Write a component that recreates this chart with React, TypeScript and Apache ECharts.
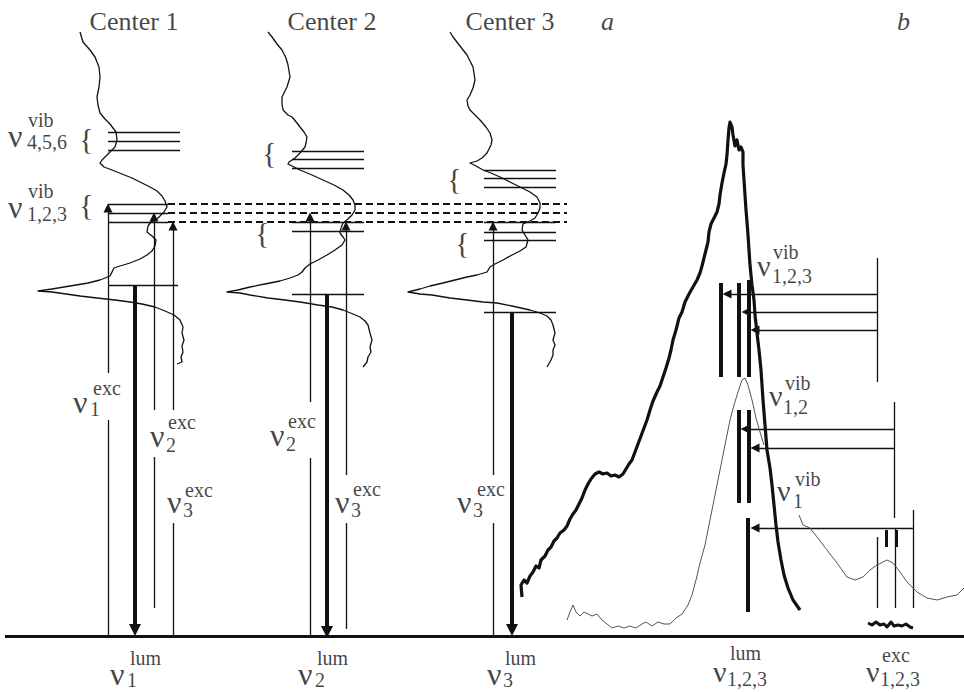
import React, { useEffect, useRef } from "react";
import * as echarts from "echarts";

// ---------------- data (diagram units: x to the right, y downward) ----------------
const centerTitles = ["Center 1", "Center 2", "Center 3"];
const panelLetters = ["a", "b"];

// excitation spectra of the three centres (panel a), traced vertically
const spectrumCenter1 = [
  [80, 32], [83, 42], [90, 50], [95, 57], [99, 67], [100, 77], [99, 87], [97, 97], [98, 105], [100, 113],
  [105, 119], [110, 124], [116, 132], [117, 140], [115, 147], [108, 154], [102, 160], [100, 163], [104, 167],
  [112, 170], [122, 174], [132, 178], [142, 183], [150, 187], [157, 191], [162, 196], [165, 201], [167, 207],
  [164, 212], [158, 218], [151, 222], [148, 226], [147, 232], [152, 236], [156, 240], [155, 246], [152, 251],
  [147, 255], [140, 259], [130, 263], [120, 266], [114, 268], [112, 272], [110, 276], [100, 280], [88, 283],
  [70, 286], [52, 289], [38, 291], [52, 292], [66, 294], [80, 296], [97, 298], [115, 300], [130, 302],
  [142, 304], [155, 307], [165, 311], [174, 315], [180, 320], [183, 327], [182, 333], [184, 340], [182, 346],
  [183, 352], [181, 357], [182, 362], [177, 364],
];
const spectrumCenter2 = [
  [268, 32], [272, 37], [277, 44], [282, 50], [286, 58], [288, 65], [290, 77], [287, 87], [282, 97], [282, 104],
  [283, 110], [288, 115], [292, 117], [297, 123], [300, 127], [304, 132], [307, 137], [306, 143], [305, 147],
  [300, 153], [295, 158], [289, 162], [288, 164], [294, 167], [300, 170], [312, 175], [323, 180], [334, 185],
  [343, 190], [349, 195], [353, 200], [355, 205], [355, 210], [352, 215], [348, 219], [343, 223], [341, 228],
  [340, 233], [343, 237], [345, 240], [342, 245], [335, 250], [327, 255], [318, 260], [310, 264], [305, 268],
  [302, 272], [298, 275], [290, 278], [280, 281], [265, 284], [250, 287], [238, 290], [227, 292], [240, 293],
  [250, 295], [268, 298], [285, 300], [300, 302], [318, 305], [332, 307], [343, 310], [353, 314], [360, 317],
  [365, 321], [368, 325], [370, 333], [372, 340], [370, 347], [371, 352], [368, 357], [367, 362], [363, 367],
];
const spectrumCenter3 = [
  [450, 32], [453, 37], [460, 46], [467, 55], [470, 61], [473, 67], [475, 80], [473, 88], [470, 95], [467, 100],
  [468, 106], [470, 110], [475, 115], [480, 120], [486, 127], [490, 133], [492, 140], [491, 145], [487, 153],
  [482, 158], [477, 161], [470, 163], [476, 166], [483, 170], [491, 173], [500, 177], [510, 182], [520, 187],
  [530, 192], [537, 197], [540, 203], [540, 208], [538, 213], [535, 218], [530, 221], [523, 224], [522, 230],
  [525, 235], [528, 240], [526, 247], [520, 251], [512, 255], [503, 260], [495, 264], [490, 267], [487, 272],
  [477, 275], [467, 277], [455, 280], [443, 283], [430, 286], [420, 289], [408, 292], [420, 294], [432, 295],
  [450, 298], [467, 300], [483, 302], [497, 303], [512, 306], [530, 310], [540, 313], [547, 316], [551, 320],
  [553, 325], [555, 333], [553, 340], [555, 345], [553, 350], [553, 355], [551, 360], [547, 367],
];

// panel b: luminescence band (bold) and excitation spectrum (thin)
const luminescenceB = [
  [522, 597], [521, 585], [524, 580], [527, 583], [530, 576], [533, 572], [536, 566], [539, 568], [541, 560],
  [545, 556], [548, 550], [551, 547], [554, 541], [557, 538], [560, 533], [564, 530], [567, 526], [570, 519],
  [573, 514], [576, 510], [579, 504], [582, 498], [585, 490], [588, 484], [591, 479], [595, 474], [599, 472],
  [603, 474], [607, 473], [611, 476], [615, 475], [619, 477], [623, 474], [626, 469], [629, 464], [632, 460],
  [635, 452], [638, 444], [641, 436], [644, 428], [647, 420], [650, 410], [653, 401], [657, 392], [660, 386],
  [663, 377], [666, 368], [669, 358], [671, 350], [673, 340], [676, 330], [679, 318], [682, 312], [685, 302],
  [689, 294], [693, 287], [697, 280], [700, 273], [702, 266], [704, 258], [706, 250], [708, 242], [709, 232],
  [711, 224], [714, 218], [717, 212], [719, 204], [720, 195], [722, 183], [724, 173], [726, 164], [727, 155],
  [728, 140], [729, 128], [730, 122], [732, 127], [733, 135], [735, 146], [737, 140], [739, 150], [741, 147],
  [743, 152], [743, 165], [744, 180], [745, 195], [746, 210], [747, 222], [748, 235], [749, 250], [750, 265],
  [752, 285], [754, 300], [755, 315], [757, 333], [759, 350], [761, 370], [762, 385], [763, 400], [765, 425],
  [767, 450], [770, 468], [772, 485], [774, 505], [776, 525], [778, 542], [781, 560], [784, 575], [788, 588],
  [793, 600], [800, 610],
];
const excitationBMain = [
  [567, 620], [570, 612], [573, 605], [576, 612], [580, 616], [584, 612], [588, 614], [592, 616], [597, 614],
  [602, 620], [607, 624], [612, 628], [618, 626], [624, 628], [630, 626], [636, 628], [642, 624], [646, 622],
  [652, 626], [658, 622], [664, 624], [670, 624], [676, 618], [682, 614], [688, 605], [692, 595], [696, 580],
  [700, 563], [705, 545], [710, 520], [714, 500], [718, 480], [722, 460], [726, 440], [730, 420], [734, 405],
  [738, 392], [742, 380], [745, 378], [748, 385], [752, 400], [756, 418], [760, 432], [764, 445],
];
const excitationBTail = [
  [799, 515], [803, 525], [810, 528], [817, 537], [827, 550], [837, 563], [847, 577], [855, 580], [863, 577],
  [870, 570], [877, 565], [887, 560], [893, 563], [900, 572], [907, 582], [917, 592], [927, 598], [937, 600],
  [947, 597], [957, 595], [964, 588],
];
const excitationNoise = [
  [868, 623], [872, 625], [876, 622], [880, 625], [884, 624], [887, 627], [891, 622], [894, 626], [898, 625],
  [902, 626], [906, 624], [910, 627], [913, 628],
];

// energy levels [x1, x2, y]
const levelLines = [
  [108, 180, 132], [108, 180, 141], [108, 180, 150], [108, 168, 204], [108, 168, 213], [108, 168, 222], [108, 178, 285],
  [292, 364, 151], [292, 364, 159], [292, 364, 168], [292, 364, 222], [292, 364, 231], [292, 364, 294],
  [484, 556, 170], [484, 556, 178], [484, 556, 187], [484, 556, 222], [484, 556, 232], [484, 556, 240], [484, 556, 312],
];
const sharedVibLevels = [
  [168, 567, 204], [168, 567, 213], [168, 567, 222],
];
// excitation transitions (thin, upward): x, from, to, label gap
const excTransitions = [
  { x: 108, from: 636, to: 204, gap: [373, 420] },
  { x: 154, from: 608, to: 213, gap: [410, 457] },
  { x: 173, from: 636, to: 222, gap: [410, 523] },
  { x: 310, from: 636, to: 213, gap: [402, 458] },
  { x: 346, from: 629, to: 222, gap: [475, 523] },
  { x: 493, from: 636, to: 222, gap: [475, 523] },
];
// luminescence transitions (bold, downward): x, from, to
const lumTransitions = [
  [135, 285, 636], [327, 294, 638], [512, 312, 636],
];
// panel b: luminescence lines [x, y1, y2]
const lumLinesB = [
  [721, 283, 377], [739, 283, 377], [749, 280, 377], [739, 410, 503], [749, 410, 503], [748, 518, 612],
];
// panel b: vibrational transitions (leftward) [xFrom, xTo, y]
const vibArrowsB = [
  [877, 723, 294], [877, 742, 312], [877, 751, 330], [894, 741, 429], [894, 751, 448], [913, 751, 528],
];
// panel b: thin vertical markers [x, y1, y2]
const markersB = [
  [877, 258, 382], [894, 402, 518], [877, 537, 608], [895, 528, 608], [913, 510, 608],
];
const excLinesB = [
  [886, 530, 547], [896, 530, 547],
];
const baseline = [5, 964, 636];

// ---------------- annotation layout ----------------
type NuLabel = { x: number; base: number; sup: string; sub: string; supX: number; supBase: number; subX: number; subBase: number; size: number };
const nuLabels: NuLabel[] = [
  { x: 8, base: 147, sup: "vib", sub: "4,5,6", supX: 28, supBase: 127, subX: 27, subBase: 149, size: 32 },
  { x: 8, base: 218, sup: "vib", sub: "1,2,3", supX: 28, supBase: 198, subX: 27, subBase: 221, size: 32 },
  { x: 73, base: 413, sup: "exc", sub: "1", supX: 93, supBase: 395, subX: 90, subBase: 416, size: 32 },
  { x: 150, base: 447, sup: "exc", sub: "2", supX: 168, supBase: 429, subX: 166, subBase: 452, size: 32 },
  { x: 167, base: 513, sup: "exc", sub: "3", supX: 185, supBase: 497, subX: 183, subBase: 517, size: 32 },
  { x: 270, base: 446, sup: "exc", sub: "2", supX: 288, supBase: 428, subX: 286, subBase: 451, size: 32 },
  { x: 335, base: 513, sup: "exc", sub: "3", supX: 353, supBase: 496, subX: 351, subBase: 517, size: 32 },
  { x: 457, base: 513, sup: "exc", sub: "3", supX: 477, supBase: 496, subX: 473, subBase: 517, size: 32 },
  { x: 110, base: 685, sup: "lum", sub: "1", supX: 130, supBase: 665, subX: 127, subBase: 687, size: 32 },
  { x: 298, base: 685, sup: "lum", sub: "2", supX: 317, supBase: 665, subX: 315, subBase: 687, size: 32 },
  { x: 487, base: 685, sup: "lum", sub: "3", supX: 505, supBase: 665, subX: 503, subBase: 687, size: 32 },
  { x: 713, base: 682, sup: "lum", sub: "1,2,3", supX: 730, supBase: 660, subX: 727, subBase: 686, size: 30 },
  { x: 866, base: 682, sup: "exc", sub: "1,2,3", supX: 882, supBase: 662, subX: 880, subBase: 686, size: 30 },
  { x: 757, base: 275, sup: "vib", sub: "1,2,3", supX: 773, supBase: 259, subX: 772, subBase: 283, size: 28 },
  { x: 769, base: 405, sup: "vib", sub: "1,2", supX: 785, supBase: 390, subX: 783, subBase: 414, size: 28 },
  { x: 777, base: 500, sup: "vib", sub: "1", supX: 795, supBase: 486, subX: 793, subBase: 508, size: 28 },
];
const braces = [[79, 141], [79, 207], [262, 155], [255, 235], [447, 181], [455, 245]];
const titlePos = [[134, 30], [332, 30], [510, 30]];
const letterPos = [[601, 30], [897, 30]];

const INK = "#111111";
const SERIF = '"Liberation Serif", "Times New Roman", "DejaVu Serif", serif';
const SMALL = 20;
const mid = (base: number, size: number) => base - 0.34 * size;

function linesSeries(data: any[], width: number, extra: any = {}) {
  return {
    type: "lines",
    coordinateSystem: "cartesian2d",
    polyline: false,
    silent: true,
    data,
    symbol: "none",
    lineStyle: { color: INK, width, opacity: 1, curveness: 0 },
    ...extra,
  };
}
function curveSeries(data: number[][], width: number, color = INK) {
  return {
    type: "line",
    data,
    symbol: "none",
    silent: true,
    smooth: false,
    lineStyle: { color, width, join: "round" },
  };
}
function textSeries(items: { x: number; y: number; text: string }[], label: any) {
  return {
    type: "scatter",
    symbolSize: 0,
    silent: true,
    data: items.map((t) => ({ value: [t.x, t.y], label: { formatter: t.text } })),
    label: { show: true, position: "inside", color: INK, fontFamily: SERIF, verticalAlign: "middle", ...label },
  };
}

export default function App() {
  const ref = useRef<HTMLDivElement>(null);
  useEffect(() => {
    if (!ref.current) return;
    const chart = echarts.init(ref.current, undefined, { renderer: "svg" });

    const seg = (x1: number, y1: number, x2: number, y2: number) => ({ coords: [[x1, y1], [x2, y2]] });

    const thin: any[] = [];
    levelLines.forEach(([a, b, y]) => thin.push(seg(a, y, b, y)));
    excTransitions.forEach((t) => thin.push(seg(t.x, t.from, t.x, t.gap[1])));
    markersB.forEach(([x, a, b]) => thin.push(seg(x, a, x, b)));

    const upHeads = excTransitions.map((t) => seg(t.x, t.gap[0], t.x, t.to + 4));
    const leftHeads = vibArrowsB.map(([a, b, y]) => seg(a, y, b + 4, y));
    const dashed = sharedVibLevels.map(([a, b, y]) => seg(a, y, b, y));
    const lumDown = lumTransitions.map(([x, a, b]) => seg(x, a, x, b - 6));
    const bars = lumLinesB.map(([x, a, b]) => seg(x, a, x, b));
    const marks = excLinesB.map(([x, a, b]) => seg(x, a, x, b));

    const nuItems: any[] = [];
    const nuItemsB: any[] = [];
    const supItems: any[] = [];
    const subItems: any[] = [];
    nuLabels.forEach((l) => {
      (l.size >= 32 ? nuItems : nuItemsB).push({ x: l.x, y: mid(l.base, l.size), text: "ν" });
      supItems.push({ x: l.supX, y: mid(l.supBase, SMALL), text: l.sup });
      subItems.push({ x: l.subX, y: mid(l.subBase, SMALL), text: l.sub });
    });

    chart.setOption({
      animation: false,
      backgroundColor: "#ffffff",
      grid: { left: 0, right: 0, top: 0, bottom: 0 },
      xAxis: { type: "value", min: 0, max: 964, show: false },
      yAxis: { type: "value", min: 0, max: 692, inverse: true, show: false },
      series: [
        curveSeries(spectrumCenter1, 1.3),
        curveSeries(spectrumCenter2, 1.3),
        curveSeries(spectrumCenter3, 1.3),
        curveSeries(excitationBMain, 1, "#555555"),
        curveSeries(excitationBTail, 1, "#555555"),
        curveSeries(luminescenceB, 3.2),
        curveSeries(excitationNoise, 3),
        linesSeries(thin, 1.3),
        linesSeries(dashed, 2, { lineStyle: { color: INK, width: 2, opacity: 1, type: [7, 4] } }),
        linesSeries(upHeads, 1.3, { symbol: ["none", "triangle"], symbolSize: 9 }),
        linesSeries(leftHeads, 1.3, { symbol: ["none", "triangle"], symbolSize: 9 }),
        linesSeries(lumDown, 4, { symbol: ["none", "triangle"], symbolSize: 12 }),
        linesSeries(bars, 4),
        linesSeries(marks, 3),
        linesSeries([seg(baseline[0], baseline[2], baseline[1], baseline[2])], 3),
        textSeries(
          centerTitles.map((t, i) => ({ x: titlePos[i][0], y: mid(titlePos[i][1], 26), text: t })),
          { fontSize: 26, align: "center", lineHeight: 26 }
        ),
        textSeries(
          panelLetters.map((t, i) => ({ x: letterPos[i][0], y: mid(letterPos[i][1], 26), text: t })),
          { fontSize: 26, align: "left", fontStyle: "italic", lineHeight: 26 }
        ),
        textSeries(nuItems, { fontSize: 32, align: "left", lineHeight: 22 }),
        textSeries(nuItemsB, { fontSize: 30, align: "left", lineHeight: 22 }),
        textSeries(supItems, { fontSize: SMALL, align: "left", lineHeight: 15 }),
        textSeries(subItems, { fontSize: SMALL, align: "left", lineHeight: 15 }),
        textSeries(
          braces.map(([x, y]) => ({ x, y: y - 3, text: "{" })),
          { fontSize: 30, align: "left", lineHeight: 28 }
        ),
      ],
    });
    return () => chart.dispose();
  }, []);

  return (
    <div
      ref={ref}
      style={{ position: "fixed", left: 0, top: 0, width: 964, height: 692, background: "#fff" }}
    />
  );
}
